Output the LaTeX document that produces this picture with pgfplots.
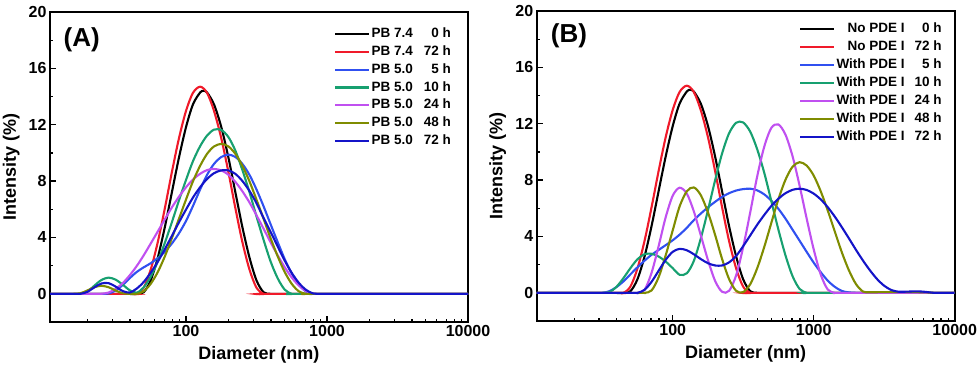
\documentclass[border=0pt]{standalone}
\usepackage{fontspec}
\setmainfont{Liberation Sans}
\usepackage{pgfplots}
\pgfplotsset{compat=1.18}

\definecolor{cred}{HTML}{F01A2A}
\definecolor{cblue}{HTML}{3050F0}
\definecolor{cgreen}{HTML}{17A070}
\definecolor{cpurple}{HTML}{C050F0}
\definecolor{colive}{HTML}{7F8C00}
\definecolor{cnavy}{HTML}{1414C8}

\pgfplotsset{dls/.style={
  scale only axis, width=418pt, height=310pt,
  xmin=10.85, xmax=10000, ymin=-2, ymax=20,
  xtick={100,1000,10000}, xticklabels={100,1000,10000},
  minor xtick={20,30,40,50,60,70,80,90,200,300,400,500,600,700,800,900,2000,3000,4000,5000,6000,7000,8000,9000},
  ytick={0,4,8,12,16,20}, minor ytick={2,6,10,14,18},
  tick align=inside, tick pos=left,
  major tick length=6pt, minor tick length=3.5pt,
  every tick/.style={black, line width=1.3pt},
  axis line style={line width=1.9pt},
  /pgf/number format/assume math mode=true,
  ticklabel style={font=\bfseries\fontsize{16}{16}\selectfont},
  xlabel={Diameter (nm)}, ylabel={Intensity (\%)},
  label style={font=\bfseries\fontsize{18}{18}\selectfont},
  xlabel style={at={(axis description cs:0.5,-0.106)}, anchor=center},
  ylabel style={at={(axis description cs:-0.093,0.5)}, anchor=center},
  legend style={draw=none, fill=none, anchor=north east,
    font=\bfseries\fontsize{13.5}{13.5}\selectfont,
    row sep=1.9pt, inner sep=0pt,
    nodes={inner sep=1.5pt, text height=10pt, text depth=3pt}},
  legend cell align=left,
  legend image code/.code={\draw[#1, line width=2.1pt] (0pt,0pt) -- (34pt,0pt);},
  every axis plot/.append style={line width=2.1pt, smooth, tension=0.5},
}}

\begin{document}
\begin{tikzpicture}
\useasboundingbox (-50pt,-46pt) rectangle (930pt,322pt);

% ---------------- panel A ----------------
\begin{semilogxaxis}[dls, at={(0pt,0pt)},
  legend style={at={(axis description cs:0.963,0.956)}}]
\addplot[black] coordinates {(10.85,0)(39.8,0)(44.7,0)(50.1,0.11)(56.2,0.96)(63.1,2.57)(70.8,4.74)(79.4,7.2)(89.1,9.66)(100,11.83)(112,13.44)(126,14.29)(133,14.4)(141,14.29)(158,13.44)(178,11.83)(200,9.66)(224,7.2)(251,4.74)(282,2.57)(316,0.96)(355,0.11)(398,0)(447,0)(10000,0)};
\addplot[cred] coordinates {(10.85,0)(39.8,0)(44.7,0)(50.1,0.44)(56.2,1.72)(63.1,3.68)(70.8,6.07)(79.4,8.63)(89.1,11.03)(100,12.98)(112,14.26)(126,14.7)(141,14.26)(158,12.98)(178,11.03)(200,8.63)(224,6.07)(251,3.68)(282,1.72)(316,0.44)(355,0)(398,0)(10000,0)};
\addplot[cblue] coordinates {(10.85,0)(22.4,0)(25.1,0)(28.2,0.02)(31.6,0.23)(35.5,0.62)(39.8,1.1)(44.7,1.55)(50.1,1.88)(56.2,2.17)(63.1,2.54)(70.8,2.99)(79.4,3.57)(89.1,4.29)(100,5.17)(112,6.23)(126,7.41)(141,8.44)(158,9.22)(178,9.71)(200,9.88)(224,9.71)(251,9.22)(282,8.44)(316,7.41)(355,6.21)(398,4.94)(447,3.67)(501,2.47)(562,1.44)(631,0.66)(708,0.17)(794,0)(891,0)(10000,0)};
\addplot[cgreen] coordinates {(10.85,0)(15.8,0)(17.8,0)(20,0.17)(22.4,0.58)(25.1,0.98)(28.2,1.15)(31.6,1.01)(35.5,0.66)(39.8,0.26)(44.7,0.08)(50.1,0.46)(56.2,1.21)(63.1,2.3)(70.8,3.62)(79.4,5.08)(89.1,6.62)(100,8.08)(112,9.41)(126,10.48)(141,11.23)(158,11.65)(178,11.63)(200,11.12)(224,10.16)(251,8.79)(282,7.21)(316,5.5)(355,3.83)(398,2.3)(447,1.1)(501,0.3)(562,0)(631,0)(10000,0)};
\addplot[cpurple] coordinates {(10.85,0)(22.4,0)(25.1,0)(28.2,0.09)(31.6,0.34)(35.5,0.75)(39.8,1.3)(44.7,1.97)(50.1,2.73)(56.2,3.57)(63.1,4.43)(70.8,5.29)(79.4,6.13)(89.1,6.89)(100,7.56)(112,8.11)(126,8.52)(141,8.78)(158,8.86)(178,8.76)(200,8.45)(224,7.94)(251,7.28)(282,6.48)(316,5.58)(355,4.62)(398,3.66)(447,2.73)(501,1.89)(562,1.16)(631,0.59)(708,0.2)(794,0.02)(891,0)(1000,0)(10000,0)};
\addplot[colive] coordinates {(10.85,0)(14.1,0)(15.8,0)(17.8,0.04)(20,0.24)(22.4,0.47)(25.1,0.57)(28.2,0.47)(31.6,0.24)(35.5,0.04)(39.8,0)(44.7,0)(50.1,0.18)(56.2,0.71)(63.1,1.55)(70.8,2.66)(79.4,3.95)(89.1,5.32)(100,6.69)(112,7.98)(126,9.09)(141,9.93)(158,10.46)(178,10.64)(200,10.46)(224,9.93)(251,9.09)(282,7.98)(316,6.69)(355,5.32)(398,3.95)(447,2.66)(501,1.55)(562,0.71)(631,0.18)(708,0)(794,0)(10000,0)};
\addplot[cnavy] coordinates {(10.85,0)(15.8,0)(17.8,0)(20,0.14)(22.4,0.46)(25.1,0.73)(28.2,0.76)(31.6,0.52)(35.5,0.2)(39.8,0.09)(44.7,0.37)(50.1,0.84)(56.2,1.5)(63.1,2.28)(70.8,3.17)(79.4,4.11)(89.1,5.07)(100,5.98)(112,6.83)(126,7.57)(141,8.15)(158,8.56)(178,8.76)(200,8.76)(224,8.51)(251,8.01)(282,7.3)(316,6.44)(355,5.38)(398,4.4)(447,3.36)(501,2.36)(562,1.49)(631,0.78)(708,0.29)(794,0.03)(891,0)(1000,0)(10000,0)};
\legend{PB 7.4\makebox[38pt][r]{0 h},
        PB 7.4\makebox[38pt][r]{72 h},
        PB 5.0\makebox[38pt][r]{5 h},
        PB 5.0\makebox[38pt][r]{10 h},
        PB 5.0\makebox[38pt][r]{24 h},
        PB 5.0\makebox[38pt][r]{48 h},
        PB 5.0\makebox[38pt][r]{72 h}}
\node[font=\bfseries\fontsize{26}{26}\selectfont] at (axis description cs:0.076,0.91) {(A)};
\end{semilogxaxis}

% ---------------- panel B ----------------
\begin{semilogxaxis}[dls, at={(486.7pt,1pt)},
  legend style={at={(axis description cs:0.973,0.967)}}]
\addplot[black] coordinates {(10.85,0)(39.8,0)(44.7,0)(50.1,0.11)(56.2,0.96)(63.1,2.57)(70.8,4.74)(79.4,7.2)(89.1,9.66)(100,11.83)(112,13.44)(126,14.29)(133,14.4)(141,14.29)(158,13.44)(178,11.83)(200,9.66)(224,7.2)(251,4.74)(282,2.57)(316,0.96)(355,0.11)(398,0)(447,0)(10000,0)};
\addplot[cred] coordinates {(10.85,0)(39.8,0)(44.7,0)(50.1,0.44)(56.2,1.72)(63.1,3.68)(70.8,6.07)(79.4,8.63)(89.1,11.03)(100,12.98)(112,14.26)(126,14.7)(141,14.26)(158,12.98)(178,11.03)(200,8.63)(224,6.07)(251,3.68)(282,1.72)(316,0.44)(355,0)(398,0)(10000,0)};
\addplot[cblue] coordinates {(10.85,0)(28.2,0)(31.6,0)(35.5,0.11)(39.8,0.4)(44.7,0.81)(50.1,1.31)(56.2,1.81)(63.1,2.28)(70.8,2.7)(79.4,3.04)(89.1,3.38)(100,3.73)(112,4.13)(126,4.62)(141,5.15)(158,5.62)(178,6.07)(200,6.46)(224,6.81)(251,7.07)(282,7.26)(316,7.36)(355,7.39)(398,7.27)(447,6.98)(501,6.53)(562,5.96)(631,5.26)(708,4.48)(794,3.7)(891,2.91)(1000,2.14)(1122,1.46)(1259,0.86)(1413,0.42)(1585,0.13)(1778,0.03)(1995,0)(2239,0)(10000,0)};
\addplot[cgreen] coordinates {(10.85,0)(28.2,0)(31.6,0)(35.5,0.05)(39.8,0.41)(44.7,1.04)(50.1,1.75)(56.2,2.38)(63.1,2.74)(70.8,2.77)(79.4,2.58)(89.1,2.22)(100,1.75)(112,1.28)(126,1.39)(141,2.25)(158,3.84)(178,5.88)(200,8.0)(224,9.89)(251,11.32)(282,12.07)(316,12.09)(355,11.43)(398,10.17)(447,8.48)(501,6.49)(562,4.48)(631,2.65)(708,1.18)(794,0.28)(891,0)(1000,0)(10000,0)};
\addplot[cpurple] coordinates {(10.85,0)(50.1,0)(56.2,0)(63.1,0.21)(70.8,1.42)(79.4,3.3)(89.1,5.35)(100,6.89)(112,7.46)(126,7.03)(141,5.8)(158,4.1)(178,2.31)(200,0.84)(224,0.07)(251,0.14)(282,1.25)(316,3.24)(355,5.73)(398,8.29)(447,10.41)(501,11.71)(562,11.95)(631,11.22)(708,9.69)(794,7.61)(891,5.28)(1000,3.08)(1122,1.29)(1259,0.23)(1413,0)(1585,0)(10000,0)};
\addplot[colive] coordinates {(10.85,0)(56.2,0)(63.1,0)(70.8,0.17)(79.4,1.1)(89.1,2.65)(100,4.43)(112,6.14)(126,7.21)(141,7.48)(158,6.94)(178,5.7)(200,4.1)(224,2.4)(251,0.98)(282,0.14)(316,0.05)(355,0.62)(398,1.76)(447,3.29)(501,4.98)(562,6.65)(631,8.03)(708,8.95)(794,9.27)(891,9.03)(1000,8.32)(1122,7.2)(1259,5.83)(1413,4.33)(1585,2.86)(1778,1.59)(1995,0.62)(2239,0.09)(2512,0.04)(3162,0.05)(5012,0.05)(6310,0.03)(7079,0)(7943,0)(10000,0)};
\addplot[cnavy] coordinates {(10.85,0)(50.1,0)(56.2,0)(63.1,0.21)(70.8,0.78)(79.4,1.56)(89.1,2.34)(100,2.91)(112,3.12)(126,3.02)(141,2.74)(158,2.4)(178,2.1)(200,1.94)(224,1.94)(251,2.16)(282,2.62)(316,3.31)(355,4.08)(398,4.84)(447,5.54)(501,6.17)(562,6.68)(631,7.07)(708,7.31)(794,7.39)(891,7.3)(1000,7.04)(1122,6.63)(1259,6.07)(1413,5.4)(1585,4.65)(1778,3.86)(1995,3.05)(2239,2.28)(2512,1.58)(2818,0.97)(3162,0.5)(3548,0.2)(3981,0.08)(4467,0.08)(5012,0.1)(5623,0.1)(6310,0.06)(7079,0)(7943,0)(10000,0)};
\legend{\makebox[68pt][r]{No PDE I}\makebox[37pt][r]{0 h},
        \makebox[68pt][r]{No PDE I}\makebox[37pt][r]{72 h},
        \makebox[68pt][r]{With PDE I}\makebox[37pt][r]{5 h},
        \makebox[68pt][r]{With PDE I}\makebox[37pt][r]{10 h},
        \makebox[68pt][r]{With PDE I}\makebox[37pt][r]{24 h},
        \makebox[68pt][r]{With PDE I}\makebox[37pt][r]{48 h},
        \makebox[68pt][r]{With PDE I}\makebox[37pt][r]{72 h}}
\node[font=\bfseries\fontsize{26}{26}\selectfont] at (axis description cs:0.077,0.92) {(B)};
\end{semilogxaxis}
\end{tikzpicture}
\end{document}
